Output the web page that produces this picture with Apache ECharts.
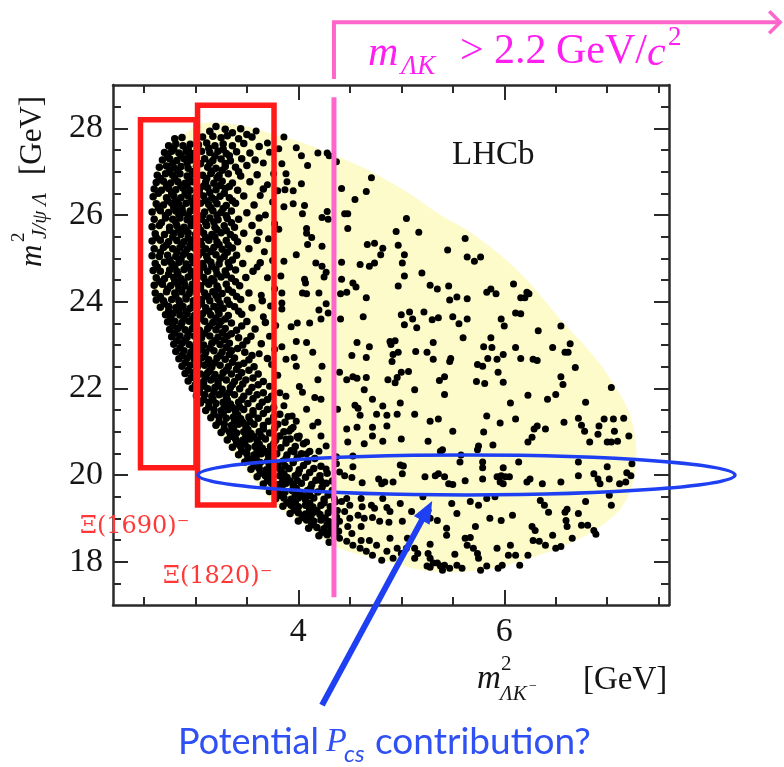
<!DOCTYPE html>
<html>
<head>
<meta charset="utf-8">
<script src="https://cdn.jsdelivr.net/npm/echarts@6/dist/echarts.min.js"></script>
<style>
  html, body { margin: 0; padding: 0; background: #fff; }
  #main { width: 784px; height: 767px; }
</style>
</head>
<body>
<div id="main"></div>
<script>
// axes
var xRange = [2.2, 7.6];
var yRange = [17, 29];
var xTicksMinor = [2.5, 3, 3.5, 4, 4.5, 5, 5.5, 6, 6.5, 7, 7.5];
var xTicksMajor = [4, 6];
var yTicksMinor = [17.5, 18, 18.5, 19, 19.5, 20, 20.5, 21, 21.5, 22, 22.5, 23, 23.5, 24, 24.5, 25, 25.5, 26, 26.5, 27, 27.5, 28, 28.5];
var yTicksMajor = [18, 20, 22, 24, 26, 28];

// kinematic boundary of the Dalitz plot
var boundary = [[2.60,23.97],[2.58,24.8],[2.58,25.48],[2.58,26.26],[2.62,27.02],[2.74,27.64],[2.91,27.89],[3.03,28.1],[3.3,28.12],[3.5,28.04],[3.72,27.89],[4.0,27.7],[4.32,27.41],[4.69,27.02],[5.08,26.49],[5.38,26.0],[5.67,25.6],[6.13,24.72],[6.58,23.5],[6.91,22.62],[7.1,21.95],[7.22,21.4],[7.28,20.7],[7.27,20.1],[7.2,19.5],[7.06,19.05],[6.74,18.54],[6.25,18.08],[5.77,17.8],[5.28,17.78],[4.79,18.05],[4.33,18.38],[4.08,18.83],[3.79,19.29],[3.36,20.53],[3.03,21.68],[2.81,22.82],[2.71,23.58]];

// candidates: dense Xi bands and the low-m(J/psi Lambda) edge
var denseBand = [
[3.20,28.04],[3.29,27.98],[3.44,27.99],[3.14,27.93],[3.36,27.9],[3.5,27.86],
[2.80,27.76],[2.87,27.79],[3.07,27.8],[3.17,27.82],[3.25,27.78],[3.31,27.83],[3.42,27.76],[3.55,27.8],
[2.74,27.6],[2.81,27.64],[2.88,27.6],[2.95,27.63],[3.03,27.62],[3.11,27.66],[3.19,27.6],[3.27,27.64],[3.36,27.6],[3.47,27.65],[3.62,27.58],
[2.70,27.44],[2.77,27.47],[2.84,27.43],[2.91,27.47],[2.98,27.42],[3.06,27.47],[3.14,27.44],[3.22,27.47],[3.30,27.42],[3.40,27.46],[3.53,27.43],
[2.68,27.27],[2.75,27.3],[2.82,27.26],[2.89,27.3],[2.96,27.27],[3.09,27.3],[3.17,27.26],[3.25,27.29],[3.34,27.25],[3.45,27.3],[3.58,27.27],
[2.65,27.1],[2.72,27.13],[2.79,27.09],[2.86,27.12],[2.93,27.08],[3.01,27.12],[3.12,27.1],[3.2,27.08],[3.29,27.12],[3.39,27.1],[3.5,27.14],
[2.63,26.92],[2.71,26.95],[2.78,26.92],[2.85,26.95],[2.92,26.9],[2.99,26.94],[3.07,26.92],[3.15,26.96],[3.23,26.91],[3.32,26.95],[3.44,26.9],[3.6,26.93],
[2.62,26.75],[2.69,26.78],[2.76,26.74],[2.83,26.77],[2.9,26.73],[2.97,26.77],[3.1,26.76],[3.18,26.73],[3.26,26.78],[3.36,26.74],[3.53,26.77],
[2.6,26.6],[2.67,26.57],[2.74,26.61],[2.81,26.58],[2.88,26.62],[2.95,26.57],[3.04,26.6],[3.12,26.63],[3.2,26.58],[3.29,26.61],[3.41,26.57],[3.66,26.6],
[2.59,26.42],[2.72,26.4],[2.79,26.44],[2.86,26.4],[2.93,26.44],[3.0,26.41],[3.08,26.44],[3.16,26.4],[3.24,26.43],[3.33,26.4],[3.47,26.44],
[2.62,26.26],[2.69,26.23],[2.77,26.27],[2.84,26.24],[2.91,26.27],[2.98,26.23],[3.05,26.27],[3.13,26.24],[3.21,26.26],[3.3,26.22],[3.39,26.27],[3.57,26.23],
[2.58,26.07],[2.66,26.1],[2.74,26.06],[2.81,26.09],[2.88,26.05],[2.95,26.09],[3.09,26.07],[3.17,26.1],[3.25,26.06],[3.35,26.09],[3.5,26.05],
[2.6,25.9],[2.71,25.93],[2.78,25.9],[2.85,25.93],[2.92,25.89],[2.99,25.92],[3.06,25.9],[3.14,25.93],[3.22,25.89],[3.31,25.92],[3.42,25.9],[3.62,25.93],
[2.58,25.73],[2.65,25.76],[2.75,25.72],[2.82,25.75],[2.89,25.72],[2.96,25.76],[3.03,25.73],[3.11,25.76],[3.19,25.72],[3.28,25.75],[3.38,25.72],[3.55,25.76],
[2.61,25.57],[2.7,25.55],[2.79,25.58],[2.86,25.55],[2.93,25.59],[3.0,25.55],[3.08,25.58],[3.16,25.55],[3.25,25.59],[3.34,25.55],[3.47,25.58],
[2.58,25.4],[2.66,25.42],[2.74,25.38],[2.82,25.41],[2.89,25.38],[2.96,25.42],[3.05,25.39],[3.13,25.42],[3.21,25.38],[3.3,25.41],[3.41,25.38],[3.6,25.42],
[2.6,25.22],[2.69,25.25],[2.78,25.22],[2.85,25.25],[2.92,25.21],[2.99,25.24],[3.1,25.22],[3.18,25.25],[3.26,25.21],[3.36,25.24],[3.52,25.22],
[2.58,25.06],[2.65,25.04],[2.73,25.07],[2.81,25.04],[2.88,25.08],[2.95,25.04],[3.03,25.07],[3.11,25.04],[3.2,25.08],[3.28,25.04],[3.4,25.07],
[2.61,24.88],[2.7,24.91],[2.77,24.88],[2.84,24.91],[2.91,24.87],[2.98,24.9],[3.07,24.88],[3.15,24.91],[3.23,24.87],[3.32,24.9],[3.46,24.88],[3.63,24.9],
[2.59,24.72],[2.66,24.7],[2.75,24.73],[2.82,24.7],[2.89,24.74],[2.96,24.7],[3.04,24.73],[3.12,24.7],[3.2,24.74],[3.29,24.71],[3.39,24.73],[3.56,24.7],
[2.62,24.55],[2.7,24.53],[2.79,24.56],[2.86,24.53],[2.93,24.57],[3.0,24.53],[3.08,24.56],[3.16,24.53],[3.25,24.57],[3.35,24.54],[3.49,24.56],
[2.6,24.38],[2.68,24.4],[2.76,24.37],[2.83,24.4],[2.9,24.36],[2.97,24.4],[3.05,24.37],[3.13,24.4],[3.21,24.36],[3.3,24.4],[3.43,24.37],
[2.61,24.2],[2.72,24.23],[2.8,24.2],[2.87,24.23],[2.94,24.19],[3.01,24.23],[3.09,24.2],[3.17,24.23],[3.26,24.19],[3.36,24.22],[3.52,24.2],
[2.62,24.04],[2.69,24.02],[2.77,24.05],[2.84,24.02],[2.91,24.06],[2.98,24.02],[3.06,24.05],[3.14,24.02],[3.22,24.06],[3.31,24.03],[3.44,24.05],[3.65,24.02],
[2.66,23.87],[2.74,23.89],[2.81,23.86],[2.88,23.89],[2.95,23.85],[3.02,23.89],[3.1,23.86],[3.18,23.89],[3.27,23.85],[3.38,23.88],[3.55,23.86],
[2.71,23.7],[2.78,23.72],[2.85,23.69],[2.92,23.72],[2.99,23.68],[3.07,23.72],[3.15,23.69],[3.23,23.72],[3.32,23.68],[3.45,23.71],
[2.73,23.53],[2.8,23.55],[2.87,23.52],[2.94,23.55],[3.01,23.51],[3.09,23.55],[3.17,23.52],[3.25,23.55],[3.35,23.51],[3.5,23.54],[3.68,23.52],
[2.75,23.36],[2.83,23.38],[2.9,23.35],[2.97,23.38],[3.04,23.34],[3.12,23.38],[3.2,23.35],[3.29,23.38],[3.4,23.34],[3.58,23.37],
[2.77,23.19],[2.85,23.21],[2.92,23.18],[2.99,23.21],[3.06,23.17],[3.14,23.21],[3.22,23.18],[3.31,23.21],[3.42,23.17],[3.54,23.2],
[2.79,23.02],[2.87,23.04],[2.94,23.01],[3.01,23.04],[3.08,23.0],[3.16,23.04],[3.24,23.01],[3.33,23.04],[3.46,23.0],[3.64,23.03],
[2.81,22.85],[2.89,22.87],[2.96,22.84],[3.03,22.87],[3.1,22.83],[3.18,22.87],[3.26,22.84],[3.35,22.87],[3.48,22.83],
[2.84,22.68],[2.92,22.7],[2.99,22.67],[3.06,22.7],[3.13,22.66],[3.21,22.7],[3.29,22.67],[3.38,22.7],[3.52,22.66],[3.7,22.69],
[2.87,22.51],[2.95,22.53],[3.02,22.5],[3.09,22.53],[3.16,22.49],[3.24,22.53],[3.32,22.5],[3.42,22.53],[3.57,22.5],
[2.9,22.34],[2.98,22.36],[3.05,22.33],[3.12,22.36],[3.19,22.32],[3.27,22.36],[3.35,22.33],[3.45,22.36],[3.61,22.33],
[2.93,22.17],[3.01,22.19],[3.08,22.16],[3.15,22.19],[3.22,22.15],[3.3,22.19],[3.38,22.16],[3.49,22.19],[3.66,22.16],
[2.97,22.0],[3.05,22.02],[3.12,21.99],[3.19,22.02],[3.26,21.98],[3.34,22.02],[3.43,21.99],[3.55,22.02],
[3.01,21.83],[3.09,21.85],[3.16,21.82],[3.23,21.85],[3.3,21.81],[3.38,21.85],[3.47,21.82],[3.6,21.85],[3.74,21.82],
[3.05,21.66],[3.13,21.68],[3.2,21.65],[3.27,21.68],[3.34,21.64],[3.42,21.68],[3.51,21.65],[3.65,21.68],
[3.1,21.49],[3.18,21.51],[3.25,21.48],[3.32,21.51],[3.39,21.47],[3.47,21.51],[3.56,21.48],[3.7,21.51],
[3.15,21.32],[3.23,21.34],[3.3,21.31],[3.37,21.34],[3.44,21.3],[3.52,21.34],[3.61,21.31],[3.76,21.34],
[3.2,21.15],[3.28,21.17],[3.35,21.14],[3.42,21.17],[3.49,21.13],[3.57,21.17],[3.66,21.14],[3.8,21.17],
[3.25,20.98],[3.33,21.0],[3.4,20.97],[3.47,21.0],[3.54,20.96],[3.62,21.0],[3.72,20.97],[3.86,21.0],
[3.31,20.81],[3.39,20.83],[3.46,20.8],[3.53,20.83],[3.6,20.79],[3.68,20.83],[3.78,20.8],[3.92,20.83],
[3.36,20.64],[3.44,20.66],[3.51,20.63],[3.58,20.66],[3.65,20.62],[3.73,20.66],[3.83,20.63],[3.97,20.66],
[3.42,20.47],[3.5,20.49],[3.57,20.46],[3.64,20.49],[3.71,20.45],[3.79,20.49],[3.89,20.46],[4.03,20.49],
[3.48,20.3],[3.56,20.32],[3.63,20.29],[3.7,20.32],[3.77,20.28],[3.85,20.32],[3.95,20.29],[4.09,20.32],
[3.54,20.13],[3.62,20.15],[3.69,20.12],[3.76,20.15],[3.83,20.11],[3.91,20.15],[4.01,20.12],[4.15,20.15],
[3.6,19.96],[3.68,19.98],[3.75,19.95],[3.82,19.98],[3.89,19.94],[3.97,19.98],[4.07,19.95],[4.21,19.98],
[3.66,19.79],[3.74,19.81],[3.81,19.78],[3.88,19.81],[3.95,19.77],[4.03,19.81],[4.13,19.78],[4.27,19.81],
[3.72,19.62],[3.8,19.64],[3.87,19.61],[3.94,19.64],[4.01,19.6],[4.09,19.64],[4.19,19.61],[4.33,19.64],
[3.78,19.45],[3.86,19.47],[3.93,19.44],[4.0,19.47],[4.07,19.43],[4.15,19.47],[4.25,19.44],
[3.85,19.28],[3.93,19.3],[4.0,19.27],[4.07,19.3],[4.14,19.26],[4.22,19.3],[4.31,19.27],
[3.92,19.11],[4.0,19.13],[4.07,19.1],[4.14,19.13],[4.21,19.09],[4.29,19.13],
[4.0,18.94],[4.08,18.96],[4.15,18.93],[4.22,18.96],[4.3,18.92],
[4.1,18.77],[4.18,18.79],[4.25,18.76],[4.32,18.79],
[4.2,18.6],[4.28,18.62],[4.35,18.59],[4.3,18.45]
];

// extra candidates filling the cores of the two bands
var denseCore = [
[2.79,27.53],[2.93,27.52],[3.13,27.54],[3.27,27.52],
[2.73,27.36],[2.86,27.37],[2.94,27.35],[3.19,27.36],[3.33,27.37],
[2.78,27.19],[2.92,27.2],[3.05,27.18],[3.14,27.2],[3.29,27.19],
[2.75,27.01],[2.83,27.02],[2.97,27.0],[3.16,27.01],[3.26,27.03],[3.42,27.0],
[2.66,26.84],[2.8,26.85],[2.94,26.83],[3.11,26.84],[3.21,26.86],
[2.72,26.67],[2.86,26.68],[2.92,26.66],[3.08,26.67],[3.24,26.68],[3.33,26.66],
[2.64,26.5],[2.77,26.51],[2.9,26.49],[3.04,26.5],[3.14,26.52],[3.28,26.5],
[2.73,26.33],[2.81,26.34],[2.96,26.32],[3.1,26.33],[3.19,26.35],[3.36,26.33],
[2.64,26.16],[2.79,26.17],[2.87,26.15],[3.01,26.16],[3.15,26.17],[3.27,26.15],
[2.71,25.99],[2.84,26.0],[2.93,25.98],[3.07,25.99],[3.21,26.0],[3.3,25.98],
[2.67,25.82],[2.81,25.83],[2.96,25.81],[3.1,25.82],[3.18,25.84],[3.35,25.82],
[2.75,25.65],[2.84,25.66],[2.91,25.64],[3.05,25.65],[3.21,25.66],[3.3,25.64],
[2.62,25.48],[2.78,25.49],[2.93,25.47],[3.1,25.48],[3.19,25.5],[3.38,25.48],
[2.72,25.31],[2.87,25.32],[2.95,25.3],[3.06,25.31],[3.23,25.32],[3.32,25.3],
[2.66,25.14],[2.82,25.15],[2.9,25.13],[3.07,25.14],[3.15,25.16],[3.31,25.14],
[2.75,24.97],[2.86,24.98],[2.97,24.96],[3.12,24.97],[3.24,24.98],[3.36,24.96],
[2.63,24.8],[2.8,24.81],[2.93,24.79],[3.08,24.8],[3.16,24.82],[3.33,24.8],
[2.74,24.63],[2.83,24.64],[2.97,24.62],[3.04,24.63],[3.21,24.64],[3.3,24.62],
[2.65,24.46],[2.8,24.47],[2.89,24.45],[3.1,24.46],[3.18,24.48],[3.39,24.46],
[2.73,24.29],[2.84,24.3],[2.95,24.28],[3.05,24.29],[3.22,24.3],[3.32,24.28],
[2.66,24.12],[2.81,24.13],[2.91,24.11],[3.12,24.12],[3.2,24.14],[3.4,24.12],
[2.7,23.95],[2.85,23.96],[2.98,23.94],[3.06,23.95],[3.24,23.96],[3.33,23.94],
[2.74,23.78],[2.84,23.79],[2.91,23.77],[3.13,23.78],[3.22,23.8],[3.42,23.78],
[2.76,23.61],[2.89,23.62],[2.97,23.6],[3.05,23.61],[3.2,23.62],[3.29,23.6],
[2.78,23.44],[2.86,23.45],[2.99,23.43],[3.14,23.44],[3.23,23.46],[3.45,23.44],
[2.8,23.27],[2.93,23.28],[3.02,23.26],[3.09,23.27],[3.26,23.28],[3.35,23.26],
[2.82,23.1],[2.9,23.11],[3.03,23.09],[3.19,23.1],[3.28,23.12],[3.5,23.1],
[2.85,22.93],[2.98,22.94],[3.06,22.92],[3.14,22.93],[3.3,22.94],[3.41,22.92],
[2.87,22.76],[2.95,22.77],[3.09,22.75],[3.24,22.76],[3.33,22.78],[3.55,22.76],
[2.9,22.59],[3.03,22.6],[3.12,22.58],[3.19,22.59],[3.36,22.6],[3.47,22.58],
[2.93,22.42],[3.01,22.43],[3.14,22.41],[3.3,22.42],[3.4,22.44],[3.52,22.42],
[2.96,22.25],[3.1,22.26],[3.18,22.24],[3.25,22.25],[3.42,22.26],[3.56,22.24],
[3.0,22.08],[3.08,22.09],[3.22,22.07],[3.36,22.08],[3.46,22.1],[3.61,22.08],
[3.04,21.91],[3.18,21.92],[3.26,21.9],[3.33,21.91],[3.52,21.92],[3.66,21.9],
[3.08,21.74],[3.17,21.75],[3.31,21.73],[3.45,21.74],[3.56,21.76],[3.7,21.74],
[3.13,21.57],[3.28,21.58],[3.36,21.56],[3.43,21.57],[3.62,21.58],[3.76,21.56],
[3.18,21.4],[3.27,21.41],[3.41,21.39],[3.56,21.4],[3.66,21.42],[3.82,21.4],
[3.23,21.23],[3.38,21.24],[3.46,21.22],[3.53,21.23],[3.71,21.24],[3.87,21.22],
[3.28,21.06],[3.37,21.07],[3.51,21.05],[3.66,21.06],[3.77,21.08],[3.93,21.06],
[3.34,20.89],[3.49,20.9],[3.57,20.88],[3.64,20.89],[3.82,20.9],[3.99,20.88],
[3.4,20.72],[3.48,20.73],[3.62,20.71],[3.76,20.72],[3.88,20.74],[4.05,20.72],
[3.45,20.55],[3.6,20.56],[3.68,20.54],[3.75,20.55],[3.93,20.56],[4.11,20.54],
[3.51,20.38],[3.59,20.39],[3.74,20.37],[3.88,20.38],[3.99,20.4],[4.16,20.38],
[3.57,20.21],[3.72,20.22],[3.8,20.2],[3.87,20.21],[4.05,20.22],[4.22,20.2],
[3.63,20.04],[3.71,20.05],[3.86,20.03],[4.0,20.04],[4.11,20.06],[4.28,20.04],
[3.7,19.87],[3.85,19.88],[3.92,19.86],[3.99,19.87],[4.17,19.88],[4.33,19.86],
[3.76,19.7],[3.84,19.71],[3.98,19.69],[4.12,19.7],[4.23,19.72],
[3.82,19.53],[3.97,19.54],[4.04,19.52],[4.11,19.53],[4.29,19.54],
[3.89,19.36],[3.97,19.37],[4.11,19.35],[4.25,19.36],[4.36,19.38],
[3.96,19.19],[4.11,19.2],[4.18,19.18],[4.33,19.19],
[4.04,19.02],[4.12,19.03],[4.26,19.01],[4.37,19.03],
[4.13,18.85],[4.28,18.86],[4.36,18.84],
[4.23,18.68],[4.31,18.69],[4.39,18.7]
];

var mediumBand = [
[3.59,27.94],[3.70,27.66],[3.72,27.45],[3.66,27.2],[3.76,26.95],[3.70,26.7],[3.63,26.45],[3.75,26.3],[3.68,26.0],[3.77,25.8],[3.62,25.6],[3.71,25.45],[3.67,25.15],[3.75,24.95],[3.60,24.8],[3.70,24.55],[3.77,24.3],[3.64,24.15],[3.73,23.9],[3.66,23.65],[3.78,23.45],[3.72,23.2],[3.77,22.9],[3.62,22.8],[3.74,22.55],[3.80,22.3],[3.72,22.05],[3.82,21.9],[3.86,21.6],[3.90,21.35],[3.95,21.1],[4.00,20.85],
[3.93,23.42],[3.99,23.51],[4.11,23.51],[3.98,23.08],[4.08,23.06],[3.84,22.96],[3.88,22.67],[3.96,22.71],[3.98,22.51],[4.14,22.83],[4.23,22.51],[4.19,22.20],[4.01,22.04],[4.04,21.91],[3.88,21.82],[4.16,21.79],[4.22,21.75],[4.08,21.52],[3.94,21.36],[3.98,21.24],[4.14,21.13],[3.91,21.01],[3.88,20.83],[4.01,20.90],[4.08,20.76],[4.22,20.90],[4.27,20.67],[4.19,21.22],[3.96,20.53],[4.08,20.49],[4.20,20.55],[4.27,20.14],[4.22,19.87]
];

var sparseUpper = [
[3.86,27.80],[3.81,27.53],[3.98,27.55],[4.03,27.37],[4.09,27.14],[4.19,27.43],[4.28,27.43],[4.30,27.37],[4.37,27.23],[3.84,27.18],[3.88,26.95],[3.89,26.77],[4.03,26.72],[3.87,26.58],[3.95,26.56],[3.80,26.56],[4.42,26.61],[4.66,26.54],[4.71,26.86],[4.55,26.36],[3.86,26.19],[3.95,26.26],[4.06,26.22],[4.04,26.03],[4.28,26.08],[4.23,25.94],[4.29,25.90],[4.45,26.03],[4.48,26.03],[5.05,25.92],[3.81,25.67],[4.08,25.69],[4.08,25.58],[4.13,25.48],[4.09,25.32],[4.23,25.28],[4.48,25.69],[4.95,25.62],[5.17,25.60],[3.98,25.08],[3.86,24.93],[4.17,24.89],[4.23,24.82],[4.27,24.68],[4.25,24.57],[4.42,24.91],[4.60,24.86],[4.69,24.82],[4.74,24.89],[4.67,25.32],[4.74,25.35],[4.82,25.23],[4.80,25.08],[4.97,25.30],[5.03,25.08],[5.01,24.89],[5.45,25.19],[5.62,25.46],[5.64,25.03],[3.83,24.59],[4.06,24.52],[4.07,24.43],[4.42,24.52],[4.53,24.43],[4.56,24.34],[5.03,24.59],[5.20,24.66],[4.97,24.36],[5.28,24.38],[5.35,24.29],[5.46,24.36],[3.84,24.20],[4.04,24.20],[4.08,24.18],[4.20,24.20],[4.41,24.18],[4.47,24.22],[4.66,24.09],[5.47,24.04],[5.54,24.11],[5.64,24.07],[3.84,23.97],[3.84,23.83],[4.20,23.81],[4.27,23.95],[4.29,23.74],[4.22,23.60],[4.41,23.60],[4.63,23.65],[5.00,23.70],[5.08,23.76],[5.11,23.60],[5.22,23.76],[5.36,23.63],[5.50,23.65],[5.64,23.60],
[5.71,24.93],[5.77,25.03],[5.83,24.22],[5.87,24.29],[5.92,24.18],[6.09,24.41],[6.16,24.09],[6.20,24.09],[6.22,24.22],[6.24,24.18],[6.11,23.74],[6.16,23.72],[5.30,23.58],[5.97,23.60],[6.00,23.44],[6.55,23.44],[6.33,23.33],[5.03,23.47],[5.15,23.40],
[5.56,23.49],[5.87,23.17],[5.60,23.17],[5.80,22.96],[5.88,22.94],[5.99,22.78],[6.47,22.94],[6.59,22.83],[6.62,22.83],[6.64,23.03],[5.48,22.69],[5.84,22.69],[6.16,22.69]
];

var sparseLower = [
[4.57,23.06],[4.69,22.96],[4.89,23.08],[4.94,23.10],[4.90,23.01],[5.31,23.06],[6.11,22.94],[6.28,22.67],[6.69,22.48],[4.52,22.76],[4.66,22.71],[4.92,22.78],[4.91,22.62],[4.97,22.83],[5.14,22.85],[5.25,22.83],[5.31,22.67],[5.47,22.62],[5.74,22.55],[5.79,22.51],[5.93,22.67],
[4.40,22.37],[4.47,22.20],[4.53,22.27],[4.57,22.23],[4.66,22.25],[4.64,21.97],[4.87,22.20],[4.96,22.25],[5.00,22.37],[5.07,22.39],[4.94,22.13],[5.13,21.97],[5.37,22.18],[5.42,22.27],[5.42,21.86],[5.73,22.16],[5.81,22.11],[5.94,22.37],[5.99,22.14],[6.23,21.84],[6.42,21.75],[6.50,21.86],[6.57,22.09],[6.55,22.27],[6.79,21.68],[7.04,22.02],[4.72,21.75],[4.82,21.59],[4.99,21.66],[6.06,21.66],[6.32,22.64],
[4.38,21.52],[4.55,21.61],[4.58,21.54],[4.60,21.38],[4.76,21.40],[4.86,21.38],[4.86,21.13],[4.96,21.40],[5.13,21.40],[5.28,21.24],[5.36,21.29],[5.83,21.36],[5.96,21.20],[6.11,21.29],[6.32,21.13],[6.29,21.06],[6.27,20.87],[6.23,20.76],[6.58,21.22],[6.72,21.31],[6.75,21.15],[6.78,21.01],[6.83,20.76],[6.91,20.94],[6.92,21.13],[6.97,21.29],[7.06,21.29],[7.07,21.01],[7.10,20.78],[7.16,21.31],[7.21,20.90],[4.47,21.06],[4.57,21.10],[4.72,21.10],[4.72,20.90],[4.64,20.72],[4.48,20.76],[4.82,20.78],[5.00,20.83],[5.26,20.78],[5.50,21.01],[5.80,20.99],[5.75,20.67],[5.74,20.58],[5.89,20.69],[6.40,21.06],[7.00,20.76],[7.04,20.76],
[4.37,20.26],[4.40,20.07],[4.45,19.98],[4.53,20.19],[4.52,19.94],[4.62,19.82],[4.78,19.91],[4.81,19.80],[4.84,19.84],[4.92,19.84],[5.01,20.03],[5.02,20.21],[5.23,19.96],[5.33,19.98],[5.36,20.03],[5.42,19.96],[5.46,19.80],[5.50,19.78],[5.38,20.55],[5.40,20.58],[5.57,20.30],[5.58,20.46],[5.62,19.87],[5.79,20.17],[5.79,19.91],[5.93,19.96],[5.97,19.98],[5.99,20.17],[5.96,19.84],[5.99,19.80],[6.01,19.96],[6.05,19.96],[6.14,20.30],[6.25,19.91],[6.22,19.84],[6.37,19.80],[6.55,19.84],[6.72,20.30],[6.72,19.98],[6.87,20.03],[6.91,19.91],[6.93,19.80],[7.00,20.19],[7.02,19.91],[7.12,19.80],[7.18,19.84],[7.19,20.05],[7.23,19.98],[7.24,20.26],[4.37,20.42],[4.53,20.44],[4.99,20.23],[5.79,20.30],
[4.35,19.46],[4.42,19.39],[4.47,19.46],[4.50,19.30],[4.38,19.18],[4.45,19.16],[4.50,19.00],[4.40,18.93],[4.48,18.81],[4.61,19.46],[4.62,19.27],[4.58,19.07],[4.64,19.00],[4.61,18.81],[4.71,19.30],[4.74,19.23],[4.72,19.02],[4.79,18.93],[4.82,19.46],[4.86,19.25],[4.89,19.16],[4.88,18.91],[4.99,19.34],[5.01,18.93],[5.10,19.16],[5.21,19.50],[5.26,19.18],[5.28,19.00],[5.35,18.95],[5.49,19.34],[5.54,19.11],[5.67,19.39],[5.75,19.30],[5.86,19.00],[5.97,18.95],[6.08,19.07],[5.83,19.46],[5.91,19.50],[6.35,19.41],[6.39,19.30],[6.27,18.81],[6.30,18.72],[6.43,19.14],[6.59,19.14],[6.61,19.21],[6.60,18.95],[6.61,18.81],[6.72,19.11],[6.75,18.84],[6.81,18.84],[6.87,18.72],[6.89,18.63],[6.79,19.39],[7.04,19.30],[7.02,19.53],[5.72,18.81],[5.44,18.77],
[4.40,18.54],[4.47,18.47],[4.53,18.38],[4.60,18.31],[4.66,18.24],[4.72,18.15],[4.81,18.03],[4.86,18.24],[4.52,18.65],[4.61,18.49],[4.69,18.49],[4.76,18.38],[4.96,18.31],[5.00,18.19],[4.92,18.08],[5.05,18.31],[4.89,18.54],[5.13,18.31],[5.16,18.19],[5.13,18.08],[5.26,18.19],[5.28,18.08],[5.31,17.97],[5.25,17.90],[5.35,17.97],[5.38,17.90],[5.42,17.92],[5.47,17.85],[5.52,18.17],[5.54,17.92],[5.59,17.85],[5.62,18.54],[5.64,18.38],[5.67,18.56],[5.70,18.31],[5.74,18.19],[5.75,18.08],[5.83,17.90],[5.93,18.31],[5.98,17.92],[5.94,17.85],[6.06,18.38],[6.04,18.15],[6.11,18.15],[6.15,17.92],[6.23,18.15],[5.44,18.61],[5.28,18.40],[5.06,18.54],[6.28,18.49],[6.34,18.47],[6.40,18.38],[6.47,18.61],[6.50,18.31],[6.55,18.35],[6.66,18.54],[5.77,17.80],[5.40,17.80],[5.28,17.87]
];

// annotations (data coordinates)
var box1690 = [2.467, 20.17, 3.006, 28.20];
var box1820 = [3.021, 19.31, 3.764, 28.53];
var pcsBand = [5.633, 20.0, 2.608, 0.46];
var pcsArrow = [[4.23, 14.69], [5.30, 19.40]];
var cutX = 4.346;

var SERIF = '"Liberation Serif", "DejaVu Serif", serif';
var INK = '#151515';

function minorAxis(pos, ticks, range) {
    return {
        type: 'value', position: pos, min: range[0], max: range[1],
        axisLine: { show: true, onZero: false, lineStyle: { color: '#2a2a2a', width: 2.5 } },
        axisTick: { show: true, inside: true, length: 8, customValues: ticks, lineStyle: { color: '#2a2a2a', width: 2 } },
        axisLabel: { show: false },
        splitLine: { show: false }
    };
}
function majorAxis(pos, ticks, range, showLabel) {
    return {
        type: 'value', position: pos, min: range[0], max: range[1],
        axisLine: { show: false, onZero: false },
        axisTick: { show: true, inside: true, length: 15, customValues: ticks, lineStyle: { color: '#2a2a2a', width: 2 } },
        axisLabel: { show: showLabel, customValues: ticks, fontFamily: SERIF, fontSize: 34, color: INK, margin: 10 },
        splitLine: { show: false }
    };
}

function dots(data, size) {
    return { type: 'scatter', data: data, symbolSize: size, itemStyle: { color: '#000', opacity: 1 }, silent: true, z: 3 };
}

var chart = echarts.init(document.getElementById('main'));
var option = {
    animation: false,
    backgroundColor: '#fff',
    grid: { left: 113, right: 115, top: 85, bottom: 162 },
    xAxis: [
        minorAxis('bottom', xTicksMinor, xRange),
        majorAxis('bottom', xTicksMajor, xRange, true),
        minorAxis('top', xTicksMinor, xRange),
        majorAxis('top', xTicksMajor, xRange, false)
    ],
    yAxis: [
        minorAxis('left', yTicksMinor, yRange),
        majorAxis('left', yTicksMajor, yRange, true),
        minorAxis('right', yTicksMinor, yRange),
        majorAxis('right', yTicksMajor, yRange, false)
    ],
    series: [
        {
            type: 'custom', silent: true, z: 1,
            data: [[0, 0]],
            renderItem: function (params, api) {
                var pts = boundary.map(function (p) { return api.coord(p); });
                return { type: 'polygon', shape: { points: pts, smooth: 0.35 }, style: { fill: '#fcfbc9' } };
            }
        },
        dots(denseBand, 7.5),
        dots(denseCore, 7.5),
        dots(mediumBand, 7),
        dots(sparseUpper, 7),
        dots(sparseLower, 7)
    ]
};
chart.setOption(option);

// overlay annotations
function toPx(p) { return chart.convertToPixel({ xAxisIndex: 0, yAxisIndex: 0 }, p); }
function txt(x, y, text, font, color, extra) {
    return { type: 'text', x: x, y: y, z: 20, style: Object.assign({ text: text, font: font, fill: color, align: 'left', verticalAlign: 'middle' }, extra || {}) };
}
function boxShape(b) {
    var a = toPx([b[0], b[3]]), c = toPx([b[2], b[1]]);
    return { type: 'rect', z: 15, shape: { x: a[0], y: a[1], width: c[0] - a[0], height: c[1] - a[1] },
             style: { fill: null, stroke: '#ff1a1a', lineWidth: 5.5 } };
}

var red = '#ff3838', pink = '#ff66cc', magenta = '#ff1ff0', blue = '#1e3ff2';
var g = [];
g.push(boxShape(box1690));
g.push(boxShape(box1820));

var ec = toPx([pcsBand[0], pcsBand[1]]);
var erx = toPx([pcsBand[0] + pcsBand[2], pcsBand[1]])[0] - ec[0];
var ery = ec[1] - toPx([pcsBand[0], pcsBand[1] + pcsBand[3]])[1];
g.push({ type: 'ellipse', z: 16, shape: { cx: ec[0], cy: ec[1], rx: erx, ry: ery }, style: { fill: null, stroke: blue, lineWidth: 3.5 } });

// cut line and bracket
var cx = toPx([cutX, 20])[0];
var yTop = toPx([cutX, 30.45])[1], yGap1 = toPx([cutX, 29.14])[1], yGap2 = toPx([cutX, 28.72])[1], yBot = toPx([cutX, 17.18])[1];
var xEnd = toPx([8.68, 20])[0];
g.push({ type: 'line', z: 17, shape: { x1: cx, y1: yGap2, x2: cx, y2: yBot }, style: { stroke: pink, lineWidth: 5 } });
g.push({ type: 'polyline', z: 17, shape: { points: [[cx, yGap1], [cx, yTop], [xEnd, yTop]] }, style: { stroke: pink, lineWidth: 4, fill: null } });
g.push({ type: 'polyline', z: 17, shape: { points: [[xEnd - 11, yTop - 11], [xEnd, yTop], [xEnd - 11, yTop + 11]] }, style: { stroke: pink, lineWidth: 3.5, fill: null } });

// arrow to the band
var aS = toPx(pcsArrow[0]), aT = toPx(pcsArrow[1]);
var dx = aT[0] - aS[0], dy = aT[1] - aS[1], len = Math.sqrt(dx * dx + dy * dy);
var ux = dx / len, uy = dy / len, hl = 22, hw = 9;
var bx = aT[0] - hl * ux, by = aT[1] - hl * uy;
g.push({ type: 'line', z: 17, shape: { x1: aS[0], y1: aS[1], x2: bx + 2 * ux, y2: by + 2 * uy }, style: { stroke: blue, lineWidth: 6 } });
g.push({ type: 'polygon', z: 17, shape: { points: [[aT[0], aT[1]], [bx - hw * uy, by + hw * ux], [bx + hw * uy, by - hw * ux]] }, style: { fill: blue } });

// texts
g.push(txt(368, 54, 'm', 'italic 42px ' + SERIF, magenta));
g.push(txt(401, 67, 'ΛK', 'italic 27px ' + SERIF, magenta));
g.push(txt(460, 52, '>', '42px ' + SERIF, magenta));
g.push(txt(494, 52, '2.2', '42px ' + SERIF, magenta));
g.push(txt(556, 52, 'GeV/', '42px ' + SERIF, magenta));
g.push(txt(647, 54, 'c', 'italic 42px ' + SERIF, magenta));
g.push(txt(668, 38, '2', '27px ' + SERIF, magenta));

g.push(txt(452, 155, 'LHCb', '33px ' + SERIF, INK));
g.push(txt(80, 527, 'Ξ(1690)⁻', '24px "DejaVu Serif", serif', red));
g.push(txt(163, 577, 'Ξ(1820)⁻', '24px "DejaVu Serif", serif', red));

g.push(txt(477, 679, 'm', 'italic 33px ' + SERIF, INK));
g.push(txt(501, 664, '2', '21px ' + SERIF, INK));
g.push(txt(500, 694, 'ΛK', 'italic 21px ' + SERIF, INK));
g.push(txt(529, 686, '−', '14px ' + SERIF, INK));
g.push(txt(583, 680, '[GeV]', '33px ' + SERIF, INK));

g.push({ type: 'group', x: 43, y: 267, rotation: Math.PI / 2, z: 20, children: [
    txt(0, -10, 'm', 'italic 31px ' + SERIF, INK),
    txt(25, -24, '2', '19px ' + SERIF, INK),
    txt(28, -3, 'J/ψ Λ', 'italic 21px ' + SERIF, INK),
    txt(92, -10, '[GeV]', '31px ' + SERIF, INK)
] });

var SANS = 'Lato, "Open Sans", sans-serif';
g.push(txt(178, 742, 'Potential', '36px ' + SANS, '#2e50f4'));
g.push(txt(326, 742, 'P', 'italic 34px ' + SERIF, '#2e50f4'));
g.push(txt(344, 754, 'cs', 'italic 24px ' + SANS, '#2e50f4'));
g.push(txt(375, 742, 'contribution?', '37px ' + SANS, '#2e50f4'));

chart.setOption({ graphic: { elements: g } });
</script>
</body>
</html>
